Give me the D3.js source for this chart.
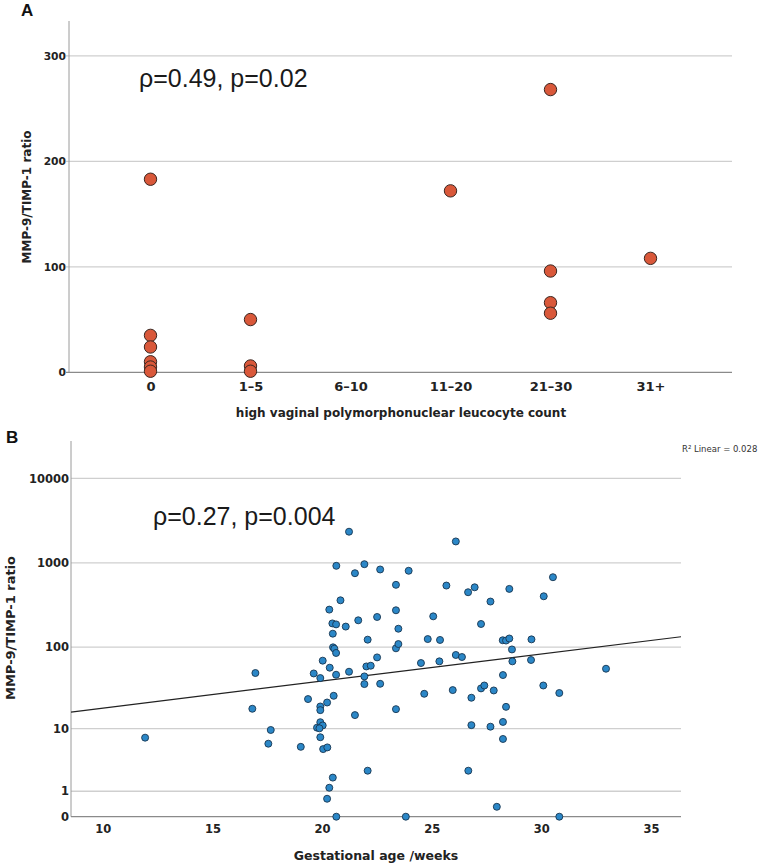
<!DOCTYPE html>
<html>
<head>
<meta charset="utf-8">
<script src="https://cdn.jsdelivr.net/npm/d3@7"></script>
<style>
  body { margin: 0; background: #fff; }
  .tick text { font-family: 'DejaVu Sans', sans-serif; font-weight: bold; fill: #222; }
  .axis-title { font-family: 'DejaVu Sans', sans-serif; font-weight: bold; fill: #222; }
  .note { font-family: 'Liberation Sans', Arial, sans-serif; fill: #1a1a1a; }
  .panel-tag { font-family: 'Liberation Sans', Arial, sans-serif; font-weight: bold; fill: #111; }
</style>
</head>
<body>
<div id="chart"></div>
<script>
// Panel A: MMP-9/TIMP-1 ratio by high vaginal PMN count
const hvsCategories = ['0', '1\u20135', '6\u201310', '11\u201320', '21\u201330', '31+'];
const hvsGroup = ['0', '0', '0', '0', '0', '0', '1\u20135', '1\u20135', '1\u20135', '11\u201320', '21\u201330', '21\u201330', '21\u201330', '21\u201330', '31+'];
const hvsRatio = [183, 35, 24, 10, 5, 1, 50, 6, 1, 172, 268, 96, 66, 56, 108];
const ratioTicksA = [0, 100, 200, 300];

// Panel B: MMP-9/TIMP-1 ratio against gestational age
const gestWeeks = [
	11.93, 16.96, 16.82, 17.66, 17.55, 19.03, 19.36, 19.62, 20.03, 19.92,
	20.33, 20.47, 20.64, 20.49, 20.5, 20.56, 20.64, 20.65, 20.35, 20.64,
	20.53, 20.23, 19.92, 19.92, 19.92, 20.03, 19.77, 19.88, 19.92, 20.05,
	20.24, 20.49, 20.33, 20.23, 20.65, 20.84, 21.08, 21.23, 21.23, 21.5,
	21.65, 21.5, 21.93, 22.08, 21.93, 21.93, 22.02, 22.22, 22.08, 22.51,
	22.51, 22.65, 22.65, 23.37, 23.37, 23.37, 23.37, 23.48, 23.48,
	23.95, 23.82, 24.51, 24.66, 24.82, 25.07, 25.38, 25.35, 25.67, 25.96,
	26.1, 26.1, 26.38, 26.66, 26.96, 26.81, 26.81, 26.67, 27.25, 27.25,
	27.4, 27.68, 27.83, 27.68, 27.97, 28.24, 28.39, 28.54, 28.54, 28.66,
	28.68, 28.25, 28.39, 28.25, 28.25, 29.55, 29.53, 30.11, 30.53, 30.09,
	30.82, 30.82, 32.95
];
const ratioB = [
	7.6, 49, 17.9, 9.6, 6.3, 5.7, 23.6, 48.4, 69, 42.6,
	280, 192, 187, 145, 99.6, 96, 85.3, 925, 56.8, 46.7,
	25.9, 21.4, 19.1, 17.2, 12.1, 11, 10.3, 10.1, 7.7, 5.3,
	5.6, 1.9, 1.2, 0.63, 0, 361, 176, 2343, 50.8, 756,
	209, 14.9, 967, 123, 44.6, 36, 58.8, 60, 2.5, 229,
	75.5, 36.3, 837, 551, 275, 97, 17.7, 166, 109,
	808, 0, 64.6, 27.4, 125, 233, 122, 67.7, 540, 30.4,
	1797, 80.7, 76.3, 450, 515, 24.5, 11.1, 2.5, 189, 31.9,
	34.6, 349, 30.1, 10.6, 0.31, 121, 120, 127, 493, 94,
	67.7, 46.3, 18.9, 12.2, 7.3, 124, 70.3, 403, 678, 34.6,
	28, 0, 55.2
];
const ratioTicksB = [0, 1, 10, 100, 1000, 10000];
const weekTicks = [10, 15, 20, 25, 30, 35];
// linear fit on log10(ratio + 1)
const fitIntercept = 0.964;
const fitSlope = 0.032;

const W = 773, H = 868;
const svg = d3.select('#chart').append('svg')
	.attr('width', W)
	.attr('height', H);

// ---------- Panel A ----------
const xA = d3.scalePoint().domain(hvsCategories).range([69, 732]).padding(0.815);
const yA = d3.scaleLinear().domain([0, 333]).range([372.3, 21]);

const gA = svg.append('g');
gA.selectAll('.gridA')
	.data(ratioTicksA.filter((d) => d > 0))
	.enter()
	.append('line')
	.attr('x1', 66).attr('x2', 732)
	.attr('y1', (d) => yA(d)).attr('y2', (d) => yA(d))
	.attr('stroke', '#cfcfcf').attr('stroke-width', 1.3);
gA.append('line')
	.attr('x1', 69).attr('x2', 69)
	.attr('y1', yA.range()[1]).attr('y2', yA(0))
	.attr('stroke', '#9a9a9a').attr('stroke-width', 1);
gA.append('line')
	.attr('x1', 66).attr('x2', 732)
	.attr('y1', yA(0)).attr('y2', yA(0))
	.attr('stroke', '#8a8a8a').attr('stroke-width', 1.3);

const axA_y = gA.append('g')
	.attr('transform', 'translate(69,0)')
	.call(d3.axisLeft(yA).tickValues(ratioTicksA).tickSize(0).tickPadding(3));
axA_y.select('.domain').remove();
axA_y.selectAll('text').style('font-size', '10.7px');

const axA_x = gA.append('g')
	.attr('transform', `translate(0,${yA(0)})`)
	.call(d3.axisBottom(xA).tickSize(0).tickPadding(9));
axA_x.select('.domain').remove();
axA_x.selectAll('text').style('font-size', '13px');

gA.selectAll('.ptA')
	.data(hvsRatio)
	.enter()
	.append('circle')
	.attr('cx', (d, i) => xA(hvsGroup[i]))
	.attr('cy', (d) => yA(d))
	.attr('r', 6.2)
	.attr('fill', '#d9583a')
	.attr('stroke', '#3b2620')
	.attr('stroke-width', 1);

gA.append('text').attr('class', 'axis-title')
	.attr('transform', 'translate(31,197) rotate(-90)')
	.attr('text-anchor', 'middle')
	.style('font-size', '12px')
	.text('MMP-9/TIMP-1 ratio');
gA.append('text').attr('class', 'axis-title')
	.attr('x', 401).attr('y', 417)
	.attr('text-anchor', 'middle')
	.style('font-size', '12px')
	.text('high vaginal polymorphonuclear leucocyte count');
gA.append('text').attr('class', 'note')
	.attr('x', 139).attr('y', 87)
	.style('font-size', '25px')
	.text('\u03c1=0.49, p=0.02');
svg.append('text').attr('class', 'panel-tag')
	.attr('x', 21).attr('y', 16)
	.style('font-size', '17px')
	.text('A');

// ---------- Panel B ----------
const xB = d3.scaleLinear().domain([8.55, 36.37]).range([71, 681]);
const yB = d3.scaleSymlog().constant(1).domain([0, 27700]).range([816.7, 441]);

const gB = svg.append('g');
gB.selectAll('.gridB')
	.data(ratioTicksB.filter((d) => d > 0))
	.enter()
	.append('line')
	.attr('x1', 71).attr('x2', 681)
	.attr('y1', (d) => yB(d)).attr('y2', (d) => yB(d))
	.attr('stroke', '#cfcfcf').attr('stroke-width', 1.3);
gB.append('line')
	.attr('x1', 71).attr('x2', 71)
	.attr('y1', yB.range()[1]).attr('y2', yB(0))
	.attr('stroke', '#9a9a9a').attr('stroke-width', 1);
gB.append('line')
	.attr('x1', 71).attr('x2', 681)
	.attr('y1', yB(0)).attr('y2', yB(0))
	.attr('stroke', '#8a8a8a').attr('stroke-width', 1.3);

const axB_y = gB.append('g')
	.attr('transform', 'translate(71,0)')
	.call(d3.axisLeft(yB).tickValues(ratioTicksB).tickFormat(d3.format('d')).tickSize(0).tickPadding(2));
axB_y.select('.domain').remove();
axB_y.selectAll('text').style('font-size', '11.5px');

const axB_x = gB.append('g')
	.attr('transform', `translate(0,${yB(0)})`)
	.call(d3.axisBottom(xB).tickValues(weekTicks).tickSize(0).tickPadding(8));
axB_x.select('.domain').remove();
axB_x.selectAll('text').style('font-size', '11.5px');

// fit line across the plot
const fitX = xB.domain();
gB.append('line')
	.attr('x1', xB(fitX[0]))
	.attr('x2', xB(fitX[1]))
	.attr('y1', yB(Math.pow(10, fitIntercept + fitSlope * fitX[0]) - 1))
	.attr('y2', yB(Math.pow(10, fitIntercept + fitSlope * fitX[1]) - 1))
	.attr('stroke', '#222')
	.attr('stroke-width', 1.2);

gB.selectAll('.ptB')
	.data(ratioB)
	.enter()
	.append('circle')
	.attr('cx', (d, i) => xB(gestWeeks[i]))
	.attr('cy', (d) => yB(d))
	.attr('r', 3.5)
	.attr('fill', '#2b87c7')
	.attr('stroke', '#173650')
	.attr('stroke-width', 0.9);

gB.append('text').attr('class', 'axis-title')
	.attr('transform', 'translate(15,628) rotate(-90)')
	.attr('text-anchor', 'middle')
	.style('font-size', '13px')
	.text('MMP-9/TIMP-1 ratio');
gB.append('text').attr('class', 'axis-title')
	.attr('x', 376).attr('y', 860)
	.attr('text-anchor', 'middle')
	.style('font-size', '12.5px')
	.text('Gestational age /weeks');
gB.append('text').attr('class', 'note')
	.attr('x', 153).attr('y', 525)
	.style('font-size', '25px')
	.text('\u03c1=0.27, p=0.004');
gB.append('text')
	.attr('x', 682).attr('y', 452)
	.style('font-family', "'DejaVu Sans', sans-serif")
	.style('font-size', '8.5px')
	.style('fill', '#333')
	.text('R\u00b2 Linear = 0.028');
svg.append('text').attr('class', 'panel-tag')
	.attr('x', 6).attr('y', 443)
	.style('font-size', '17px')
	.text('B');
</script>
</body>
</html>
